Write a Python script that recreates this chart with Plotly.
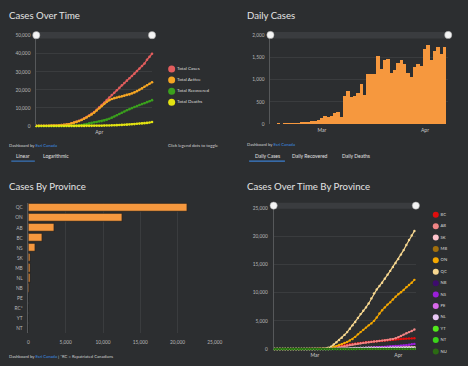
import plotly.graph_objects as go
import pandas as pd

W, H = 468, 366
BG = "#2c2e30"
GRID = "rgba(255,255,255,0.07)"
AXC = "#56585a"
TXT = "#e4e4e4"
TICK = "#b8b8b8"
FONT = "Lato"

# ---------------- data: Cases Over Time (Mar 7 - Apr 22) ----------------
cot_dates = pd.date_range("2020-03-07", "2020-04-22", freq="D")
total_cases = [60, 65, 80, 80, 110, 120, 190, 200, 250, 410, 480, 650, 800, 950, 1500, 1900,
               2300, 2800, 3400, 4200, 5000, 5800, 6700, 7700, 9000, 10300, 11600, 12900, 14400,
               15800, 17100, 18400, 19800, 21100, 22500, 23800, 25100, 26400, 27700, 29000,
               30400, 31800, 33200, 34600, 36700, 38300, 40000]
total_active = [58, 63, 78, 78, 106, 116, 185, 195, 243, 400, 468, 635, 780, 925, 1450, 1850,
                2250, 2750, 3300, 4000, 4700, 5500, 6400, 7400, 8600, 9800, 11000, 12300, 13400,
                14300, 14900, 15400, 15800, 16100, 16400, 16800, 17200, 17500, 18000, 18600,
                19300, 20000, 20800, 21700, 22600, 23400, 24200]
total_recovered = [0, 0, 0, 0, 0, 0, 0, 0, 0, 0, 5, 8, 10, 12, 20, 30, 50, 200, 500, 800, 1100,
                   1400, 1700, 2000, 2200, 2500, 2700, 3000, 3400, 4000, 4600, 5200, 5900, 6600,
                   7300, 8000, 8700, 9300, 9900, 10500, 11000, 11600, 12100, 12600, 13200, 13700,
                   14300]
total_deaths = [0, 0, 1, 1, 1, 1, 1, 1, 1, 4, 5, 8, 9, 12, 13, 19, 24, 27, 36, 39, 54, 61, 64,
                89, 101, 120, 139, 179, 218, 258, 323, 381, 435, 509, 569, 654, 717, 780, 900,
                1010, 1195, 1310, 1400, 1560, 1690, 1900, 2150]
cot_names = ["Total Cases", "Total Active", "Total Recovered", "Total Deaths"]
cot_colors = ["#e25d5d", "#f5a623", "#3aa01d", "#e3e312"]

# ---------------- data: Daily Cases (Feb 15 - Apr 7) ----------------
daily_dates = pd.date_range("2020-02-15", "2020-04-07", freq="D")
daily_cases = [0, 0, 1, 0, 3, 2, 5, 4, 8, 20, 30, 45, 55, 65, 90, 130, 175, 150, 175, 230, 255,
               150, 620, 730, 590, 630, 690, 890, 655, 1115, 1115, 1120, 1520, 1235, 1440, 1465,
               1145, 1215, 1360, 1445, 1355, 1145, 1050, 1275, 1355, 1295, 1690, 1780, 1445, 1645,
               1735, 1560, 1725]

# ---------------- data: Cases By Province ----------------
prov_bar_names = ["QC", "ON", "AB", "BC", "NS", "SK", "MB", "NL", "NB", "PE", "RC*", "YT", "NT"]
prov_bar_cases = [21300, 12600, 3450, 1880, 900, 330, 260, 260, 120, 26, 13, 9, 5]

# ---------------- data: Cases Over Time By Province (Feb 15 - Apr 7) ----------------
prov_dates = pd.date_range("2020-02-15", "2020-04-07", freq="D")
prov_names = ["BC", "AB", "SK", "MB", "ON", "QC", "NB", "NS", "PE", "NL", "YT", "NT", "NU"]
prov_colors = ["#e00d0d", "#f08585", "#ffc4cc", "#a26f0c", "#f5a800", "#f8d890",
               "#3e0c6e", "#9a1ed8", "#d868ea", "#e9c8f4", "#52ea1c", "#3ad41a", "#2b6b13"]
BC = [5, 5, 6, 6, 7, 7, 8, 8, 8, 9, 9, 12, 14, 20, 25, 30, 35, 40,
      60, 90, 150, 230, 300, 400, 500, 600, 680, 760, 830, 880, 950, 1000, 1070, 1120, 1180,
      1230, 1280, 1330, 1380, 1420, 1470, 1510, 1550, 1590, 1630, 1680, 1720, 1760, 1800,
      1830, 1860, 1880, 1900]
AB = [0, 0, 0, 0, 0, 0, 0, 0, 0, 0, 0, 0, 0, 1, 1, 4, 7, 14,
      20, 40, 60, 100, 150, 230, 300, 400, 500, 600, 700, 800, 870, 950, 1020, 1080, 1150,
      1200, 1260, 1320, 1370, 1430, 1480, 1530, 1600, 1680, 1750, 1900, 2100, 2300, 2550,
      2800, 3000, 3200, 3450]
SK = [0, 0, 0, 0, 0, 0, 0, 0, 0, 0, 0, 0, 0, 0, 0, 0, 2, 2,
      7, 8, 16, 20, 26, 52, 66, 72, 86, 95, 104, 134, 156, 176, 184, 193, 206, 220, 228, 241,
      249, 253, 260, 271, 278, 285, 289, 294, 298, 300, 302, 304, 306, 308, 310]
MB = [0, 0, 0, 0, 0, 0, 0, 0, 0, 0, 0, 0, 0, 0, 0, 0, 0, 0,
      0, 4, 7, 8, 15, 17, 18, 20, 21, 35, 39, 64, 72, 96, 103, 127, 152, 167, 182, 193, 203,
      208, 217, 221, 230, 232, 235, 238, 240, 242, 244, 246, 247, 249, 250]
ON = [0, 0, 0, 0, 0, 0, 0, 0, 0, 0, 1, 3, 5, 8, 10, 15, 18, 20,
      30, 60, 100, 200, 350, 500, 700, 850, 1050, 1250, 1500, 1750, 2150, 2600, 3000, 3400,
      3800, 4200, 4550, 5000, 5600, 6300, 6900, 7400, 7900, 8300, 8800, 9300, 9750, 10100,
      10500, 11000, 11400, 11800, 12300]
QC = [0, 0, 0, 0, 0, 0, 0, 0, 0, 0, 0, 0, 0, 1, 1, 2, 3, 5,
      50, 100, 200, 400, 800, 1200, 1600, 2000, 2500, 3000, 3600, 4200, 4800, 5500, 6200,
      6800, 7400, 8100, 9000, 9900, 10600, 11200, 11800, 12500, 13200, 13900, 14600, 15300,
      16000, 16800, 17600, 18500, 19400, 20200, 21000]
NB = [0, 0, 0, 0, 0, 0, 0, 0, 0, 0, 0, 0, 0, 0, 0, 0, 0, 0,
      1, 2, 6, 8, 11, 17, 18, 33, 45, 51, 66, 68, 70, 81, 91, 95, 98, 101, 103, 105, 106, 108,
      110, 111, 112, 113, 114, 115, 116, 116, 117, 117, 118, 118, 118]
NS = [0, 0, 0, 0, 0, 0, 0, 0, 0, 0, 0, 0, 0, 0, 0, 0, 0, 0,
      0, 3, 5, 12, 14, 21, 28, 41, 51, 68, 73, 90, 110, 122, 147, 173, 193, 207, 236, 262, 293,
      310, 342, 373, 407, 445, 474, 517, 549, 579, 606, 649, 737, 827, 900]
PE = [0, 0, 0, 0, 0, 0, 0, 0, 0, 0, 0, 0, 0, 0, 0, 0, 0, 0,
      0, 1, 1, 1, 2, 2, 2, 3, 3, 5, 5, 9, 11, 11, 18, 18, 21, 21, 22, 22, 22, 22, 22, 25, 25,
      25, 25, 25, 25, 25, 26, 26, 26, 26, 26]
NL = [0, 0, 0, 0, 0, 0, 0, 0, 0, 0, 0, 0, 0, 0, 0, 0, 0, 0,
      0, 1, 1, 3, 6, 9, 24, 35, 82, 102, 120, 135, 148, 152, 175, 183, 195, 203, 217, 226, 228,
      232, 236, 239, 241, 244, 246, 247, 250, 252, 253, 254, 254, 255, 255]
YT = [0, 0, 0, 0, 0, 0, 0, 0, 0, 0, 0, 0, 0, 0, 0, 0, 0, 0,
      0, 0, 0, 2, 2, 2, 3, 3, 4, 5, 5, 5, 6, 6, 6, 6, 7, 7, 7, 7, 7, 8, 8, 8, 8, 8, 8, 8, 8, 8,
      8, 8, 8, 8, 8]
NT = [0, 0, 0, 0, 0, 0, 0, 0, 0, 0, 0, 0, 0, 0, 0, 0, 0, 0,
      0, 0, 0, 0, 1, 1, 1, 1, 1, 1, 1, 1, 1, 2, 2, 3, 3, 4, 4, 5, 5, 5, 5, 5, 5, 5, 5, 5, 5, 5,
      5, 5, 5, 5, 5]
NU = [0, 0, 0, 0, 0, 0, 0, 0, 0, 0, 0, 0, 0, 0, 0, 0, 0, 0,
      0, 0, 0, 0, 0, 0, 0, 0, 0, 0, 0, 0, 0, 0, 0, 0, 0, 0, 0, 0, 0, 0, 0, 0, 0, 0, 0, 0, 0, 0,
      0, 0, 0, 0, 0]
prov_series = [BC, AB, SK, MB, ON, QC, NB, NS, PE, NL, YT, NT, NU]


def px(x):
    return x / W


def py(y):
    return 1 - y / H


fig = go.Figure()

# ---- panel 1: lines
for name, vals, col in zip(cot_names, [total_cases, total_active, total_recovered, total_deaths], cot_colors):
    fig.add_trace(go.Scatter(x=cot_dates, y=vals, name=name, mode="lines+markers",
                             line=dict(color=col, width=1.3), marker=dict(color=col, size=2.6),
                             xaxis="x", yaxis="y", cliponaxis=False, showlegend=False))
# legend 1 (built as a scatter of names)
fig.add_trace(go.Scatter(x=[0, 0, 0, 0], y=cot_names, mode="markers+text", text=cot_names,
                         textposition="middle right", marker=dict(size=7, color=cot_colors),
                         textfont=dict(size=4.6, color="#dddddd", family=FONT),
                         xaxis="x5", yaxis="y5", cliponaxis=False, showlegend=False, hoverinfo="skip"))

# ---- panel 2: daily bars
fig.add_trace(go.Bar(x=daily_dates, y=daily_cases, marker=dict(color="#f6983e", line=dict(width=0)),
                     xaxis="x2", yaxis="y2", showlegend=False))

# ---- panel 3: province bars
fig.add_trace(go.Bar(x=prov_bar_cases, y=prov_bar_names, orientation="h", width=0.82,
                     marker=dict(color="#f6983e", line=dict(color="#1f1f1f", width=0.8)),
                     xaxis="x3", yaxis="y3", showlegend=False))

# ---- panel 4: province lines
for name, vals, col in zip(prov_names, prov_series, prov_colors):
    fig.add_trace(go.Scatter(x=prov_dates, y=vals, name=name, mode="lines+markers",
                             line=dict(color=col, width=1.2), marker=dict(color=col, size=2.4),
                             xaxis="x4", yaxis="y4", cliponaxis=False, showlegend=False))
fig.add_trace(go.Scatter(x=[0] * len(prov_names), y=prov_names, mode="markers+text", text=prov_names,
                         textposition="middle right", marker=dict(size=6, color=prov_colors),
                         textfont=dict(size=4.2, color="#dddddd", family=FONT),
                         xaxis="x6", yaxis="y6", cliponaxis=False, showlegend=False, hoverinfo="skip"))

tickfont = dict(size=4.8, color=TICK, family=FONT)
datefont = dict(size=5, color="#cccccc", family=FONT)
common_y = dict(showgrid=True, gridcolor=GRID, gridwidth=0.6, zeroline=False, showline=True,
                linecolor=AXC, linewidth=0.8, ticks="outside", ticklen=4, tickcolor="rgba(0,0,0,0)",
                tickfont=tickfont, tickformat=",d", fixedrange=True)
common_x = dict(showgrid=False, zeroline=False, showline=False, ticks="outside", ticklen=1,
                tickcolor="rgba(0,0,0,0)", tickfont=datefont, fixedrange=True)

fig.update_layout(
    width=W, height=H, margin=dict(l=0, r=0, t=0, b=0),
    paper_bgcolor=BG, plot_bgcolor=BG, bargap=0, showlegend=False, hovermode=False,
    font=dict(family=FONT, color=TXT),
    xaxis=dict(domain=[px(36), px(154)], range=["2020-03-07", "2020-04-22"], type="date",
               dtick="M1", tickformat="%b", anchor="y", **common_x),
    yaxis=dict(domain=[py(125), py(33.3)], range=[0, 50000], dtick=10000, anchor="x", **common_y),
    xaxis2=dict(domain=[px(274.7), px(456)], range=["2020-02-14 12:00", "2020-04-08 00:00"], type="date",
                dtick="M1", tickformat="%b", anchor="y2", **common_x),
    yaxis2=dict(domain=[py(123), py(33)], range=[0, 2000], dtick=500, anchor="x2", **common_y),
    xaxis3=dict(domain=[px(28), px(218)], range=[0, 25000], dtick=5000, anchor="y3",
                showgrid=True, gridcolor=GRID, gridwidth=0.6, zeroline=False, showline=False,
                ticks="outside", ticklen=4, tickcolor="rgba(0,0,0,0)", tickfont=tickfont,
                tickformat=",d", fixedrange=True),
    yaxis3=dict(domain=[py(336), py(203)], type="category", categoryorder="array",
                categoryarray=prov_bar_names, autorange="reversed", anchor="x3",
                showgrid=False, zeroline=False, showline=True, linecolor=AXC, linewidth=0.6,
                ticks="outside", ticklen=4, tickcolor="rgba(0,0,0,0)", tickfont=tickfont, fixedrange=True),
    xaxis4=dict(domain=[px(278), px(423)], range=["2020-02-14 16:00", "2020-04-07 13:00"], type="date",
                dtick="M1", tickformat="%b", anchor="y4", **common_x),
    yaxis4=dict(domain=[py(351.7), py(209)], range=[0, 25000], dtick=5000, anchor="x4", **common_y),
    xaxis5=dict(domain=[px(174), px(234)], range=[0, 1], visible=False, fixedrange=True, anchor="y5"),
    yaxis5=dict(domain=[py(106.5), py(61.5)], type="category", categoryorder="array",
                categoryarray=cot_names, range=[3.5, -0.5], visible=False, fixedrange=True, anchor="x5"),
    xaxis6=dict(domain=[px(443.3), px(466)], range=[0, 1], visible=False, fixedrange=True, anchor="y6"),
    yaxis6=dict(domain=[py(360.1), py(209.5)], type="category", categoryorder="array",
                categoryarray=prov_names, range=[12.5, -0.5], visible=False, fixedrange=True, anchor="x6"),
)

# ---- titles and texts
ESRI = "#3d8fe6"
ann = []


def text(x, y, s, size, color=TXT, xanchor="left"):
    ann.append(dict(x=px(x), y=py(y), xref="paper", yref="paper", text=s, showarrow=False,
                    xanchor=xanchor, yanchor="middle", font=dict(size=size, color=color, family=FONT)))


text(6, 13, "Cases Over Time", 9.6)
text(249, 13, "Daily Cases", 9.6)
text(6, 187, "Cases By Province", 9.6)
text(249, 187, "Cases Over Time By Province", 9.6)
text(6, 145, "Dashboard by <span style='color:%s'>Esri Canada</span>" % ESRI, 4.2, "#d0d0d0")
text(224, 144.5, "Click legend dots to toggle", 4.3, "#d0d0d0", xanchor="right")
text(249, 144, "Dashboard by <span style='color:%s'>Esri Canada</span>" % ESRI, 4.2, "#d0d0d0")
text(6, 359, "Dashboard by <span style='color:%s'>Esri Canada</span> | *RC = Repatriated Canadians" % ESRI,
     4.2, "#d0d0d0")
text(22, 155.5, "Linear", 5, "#e0e0e0", xanchor="center")
text(56, 155.5, "Logarithmic", 5, "#e0e0e0", xanchor="center")
text(271.5, 155.5, "Daily Cases", 5, "#e0e0e0", xanchor="center")
text(315.5, 155.5, "Daily Recovered", 5, "#e0e0e0", xanchor="center")
text(361.5, 155.5, "Daily Deaths", 5, "#e0e0e0", xanchor="center")
fig.update_layout(annotations=ann)

# ---- decorative shapes: range-slider bars, handles, tab underlines
shapes = []


def rect(x0, y0, x1, y1, color):
    shapes.append(dict(type="rect", xref="paper", yref="paper", x0=px(x0), x1=px(x1),
                       y0=py(y1), y1=py(y0), fillcolor=color, line=dict(width=0), layer="below"))


def handle(x, y, r=3.7):
    shapes.append(dict(type="circle", xref="paper", yref="paper", x0=px(x - r), x1=px(x + r),
                       y0=py(y + r), y1=py(y - r), fillcolor="#f4f4f4",
                       line=dict(color="#9a9a9a", width=0.5), layer="above"))


rect(32, 29.5, 157, 36, "#3a3c3f")
rect(273.5, 29.5, 458, 36, "#3a3c3f")
rect(276, 203, 426, 209.2, "#3a3c3f")
handle(36, 32.7)
handle(154, 32.7)
handle(274.7, 32.5)
handle(456, 32.5)
handle(278, 206)
handle(423, 206)
rect(10.5, 160.2, 34.5, 161.3, "#3b7fcf")
rect(253, 160.2, 289.5, 161.3, "#3b7fcf")
fig.update_layout(shapes=shapes)

fig.write_html("out.html", config={"displayModeBar": False},
               post_script="document.body.style.margin='0';document.body.style.overflow='hidden';")
